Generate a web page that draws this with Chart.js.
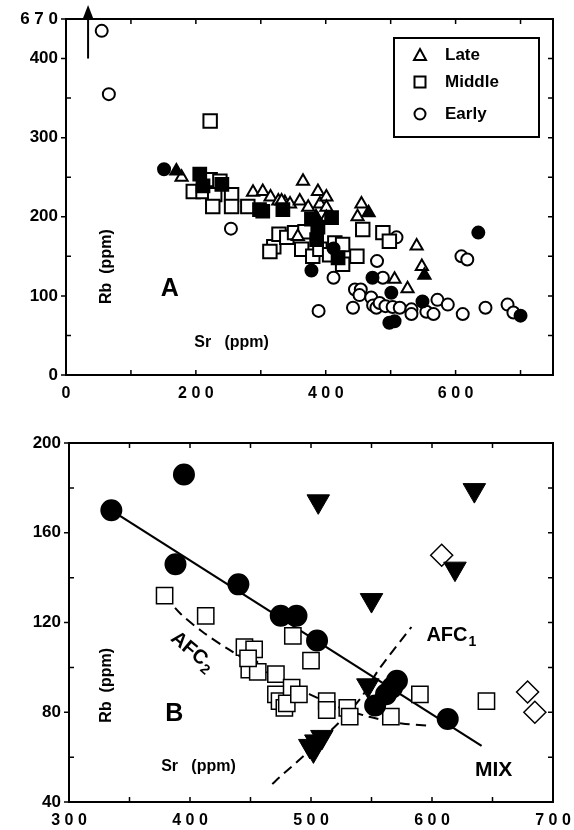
<!DOCTYPE html>
<html>
<head>
<meta charset="utf-8">
<script src="https://cdn.jsdelivr.net/npm/chart.js@4.4.0/dist/chart.umd.min.js"></script>
<style>
  body { margin: 0; background: #fff; }
  #wrap { position: relative; width: 574px; height: 830px; }
  canvas { position: absolute; left: 0; }
  #chartA { top: 0; }
  #chartB { top: 410px; }
</style>
</head>
<body>
<div id="wrap">
  <canvas id="chartA" width="574" height="410"></canvas>
  <canvas id="chartB" width="574" height="420"></canvas>
</div>
<script>
// Panel A: Rb vs Sr (ppm), all samples, [Sr, Rb]
const lateOpen = [[178,250],[288,231],[303,232],[315,225],[327,220],[337,218],[345,216],[332,220],[360,220],
  [365,245],[373,212],[388,232],[391,216],[401,225],[401,212],[401,199],[357,175],[449,200],[455,216],
  [540,163],[548,137],[506,121],[526,109]];
const lateFilled = [[170,258],[466,205],[552,126],[385,200]];
const middleOpen = [[222,321],[196,232],[211,232],[222,247],[237,245],[229,228],[255,228],[226,213],[255,213],
  [280,213],[320,162],[328,178],[314,156],[340,174],[352,180],[363,159],[368,181],[380,150],[391,159],
  [406,152],[414,167],[426,165],[426,140],[448,150],[457,184],[488,180],[498,169]];
const middleFilled = [[206,254],[211,239],[240,241],[298,209],[303,207],[334,209],[378,197],[388,187],
  [386,171],[409,199],[419,148]];
const earlyOpen = [[55,435],[66,355],[254,185],[509,174],[479,144],[412,123],[389,81],[609,150],[618,146],
  [488,123],[445,108],[454,108],[452,101],[442,85],[470,98],[473,88],[478,85],[483,91],[492,87],[503,86],
  [514,85],[532,83],[532,77],[555,80],[566,77],[572,95],[588,89],[611,77],[646,85],[680,89],[689,79]];
const earlyFilled = [[151,260],[635,180],[378,132],[472,123],[501,104],[498,66],[506,68],[549,93],[700,75],[412,160]];

const xTicksA = [0,100,200,300,400,500,600,700];
const xLabelsA = [0,200,400,600];
const yTicksA = [0,50,100,150,200,250,300,350,400,450];
const yLabelsA = [0,100,200,300,400];
const yBreakValue = 450, yBreakLabel = '670';
const legendNames = ['Late','Middle','Early'];

// Panel B: selected samples and model curves, [Sr, Rb]
const bCircles = [[335,170],[395,186],[388,146],[440,137],[475,123],[488,123],[505,112],[571,94],[567,91],
  [562,88],[553,83],[613,77]];
const bTriangles = [[506,174],[635,179],[619,144],[550,130],[547,92],[504,67],[499,65],[509,69],[502,63]];
const bDiamonds = [[608,150],[679,89],[685,80]];
const bSquares = [[379,132],[413,123],[445,109],[453,108],[449,99],[456,98],[448,104],[471,97],[471,88],
  [474,85],[478,82],[485,114],[500,103],[484,91],[480,84],[490,88],[513,85],[513,81],[530,82],[532,78],
  [566,78],[590,88],[645,85]];
const mixLine = [[335,170],[641,65]];
const afc2Line = [[379,132],[392,124],[410,116],[432,108],[463,98],[499,88],[524,82],[548,78],[575,75],[598,74]];
const afc1Line = [[468,48],[474,51],[501,64],[526,77],[542,87],[556,99],[583,118]];

const xTicksB = [300,350,400,450,500,550,600,650,700];
const xLabelsB = [300,400,500,600,700];
const yTicksB = [40,60,80,100,120,140,160,180,200];
const yLabelsB = [40,80,120,160,200];

const FONT = '"Liberation Sans", Arial, sans-serif';
const pts = arr => arr.map(p => ({ x: p[0], y: p[1] }));
const spaced = v => String(v).split('').join(' ');

// box + inward ticks on all four sides
const frame = {
  id: 'frame',
  afterDatasetsDraw(chart) {
    const { ctx, chartArea: a, scales } = chart;
    ctx.save();
    ctx.strokeStyle = '#000';
    ctx.lineWidth = 2;
    ctx.strokeRect(a.left, a.top, a.right - a.left, a.bottom - a.top);
    ctx.lineWidth = 1.5;
    ctx.beginPath();
    scales.x.ticks.forEach(t => {
      const px = scales.x.getPixelForValue(t.value);
      ctx.moveTo(px, a.bottom); ctx.lineTo(px, a.bottom - 5);
      ctx.moveTo(px, a.top); ctx.lineTo(px, a.top + 5);
    });
    scales.y.ticks.forEach(t => {
      const py = scales.y.getPixelForValue(t.value);
      ctx.moveTo(a.right, py); ctx.lineTo(a.right - 5, py);
      if (t.label) { ctx.moveTo(a.left, py); ctx.lineTo(a.left - 5, py); }
      else { ctx.moveTo(a.left, py); ctx.lineTo(a.left + 5, py); }
    });
    ctx.stroke();
    ctx.restore();
  }
};

// text labels placed in data units
const notes = {
  id: 'notes',
  afterDatasetsDraw(chart, args, opts) {
    const { ctx, scales } = chart;
    (opts.items || []).forEach(n => {
      const px = scales.x.getPixelForValue(n.x), py = scales.y.getPixelForValue(n.y);
      ctx.save();
      ctx.translate(px, py);
      ctx.rotate((n.rot || 0) * Math.PI / 180);
      ctx.fillStyle = '#000';
      ctx.textBaseline = 'middle';
      ctx.font = 'bold ' + n.size + 'px ' + FONT;
      const w1 = ctx.measureText(n.text).width;
      let w2 = 0;
      const subFont = 'bold ' + Math.round(n.size * 0.7) + 'px ' + FONT;
      if (n.sub) { ctx.font = subFont; w2 = ctx.measureText(n.sub).width + 1; }
      const x0 = -(w1 + w2) / 2;
      ctx.textAlign = 'left';
      ctx.font = 'bold ' + n.size + 'px ' + FONT;
      ctx.fillText(n.text, x0, 0);
      if (n.sub) { ctx.font = subFont; ctx.fillText(n.sub, x0 + w1 + 1, n.size * 0.3); }
      ctx.restore();
    });
  }
};

// legend box in the upper right corner of panel A
const boxLegend = {
  id: 'boxLegend',
  afterDatasetsDraw(chart) {
    const { ctx, chartArea: a } = chart;
    const left = a.right - 159, top = a.top + 19;
    ctx.save();
    ctx.fillStyle = '#fff';
    ctx.fillRect(left, top, 145, 99);
    ctx.strokeStyle = '#000';
    ctx.lineWidth = 2;
    ctx.strokeRect(left, top, 145, 99);
    const rows = [17, 44, 76];
    rows.forEach((dy, i) => {
      const cx = left + 26, cy = top + dy;
      ctx.beginPath();
      if (i === 0) { ctx.moveTo(cx, cy - 6); ctx.lineTo(cx + 6, cy + 5); ctx.lineTo(cx - 6, cy + 5); ctx.closePath(); }
      else if (i === 1) { ctx.rect(cx - 5.5, cy - 5.5, 11, 11); }
      else { ctx.arc(cx, cy, 5.5, 0, Math.PI * 2); }
      ctx.stroke();
      ctx.fillStyle = '#000';
      ctx.font = 'bold 17px ' + FONT;
      ctx.textBaseline = 'middle';
      ctx.fillText(legendNames[i], left + 51, cy);
    });
    ctx.restore();
  }
};

// arrow for the off-scale sample (Rb 670)
const offScale = {
  id: 'offScale',
  afterDatasetsDraw(chart, args, opts) {
    const { ctx, scales, chartArea: a } = chart;
    const px = scales.x.getPixelForValue(opts.sr), py = scales.y.getPixelForValue(opts.from);
    const tip = a.top - 14;
    ctx.save();
    ctx.strokeStyle = '#000'; ctx.fillStyle = '#000'; ctx.lineWidth = 2;
    ctx.beginPath(); ctx.moveTo(px, py); ctx.lineTo(px, tip + 8); ctx.stroke();
    ctx.beginPath(); ctx.moveTo(px, tip); ctx.lineTo(px + 5, tip + 13); ctx.lineTo(px - 5, tip + 13); ctx.closePath(); ctx.fill();
    ctx.restore();
  }
};

function marker(data, style, r, filled, extra) {
  return Object.assign({
    data: pts(data), pointStyle: style, pointRadius: r,
    pointBackgroundColor: filled ? '#000' : '#fff', pointBorderColor: '#000', pointBorderWidth: 2,
    showLine: false
  }, extra || {});
}

function axis(min, max, tickVals, labelVals, fit, isX, fmt, extra) {
  return Object.assign({
    type: 'linear', min: min, max: max,
    afterBuildTicks: s => { s.ticks = tickVals.map(v => ({ value: v })); },
    afterFit: s => {
      if (isX) { s.height = fit; s.paddingLeft = 0; s.paddingRight = 0; }
      else s.width = fit;
    },
    grid: { display: false, drawTicks: false },
    border: { display: false },
    ticks: {
      autoSkip: false, maxRotation: 0, color: '#000', padding: isX ? 9 : 8,
      font: { family: FONT, size: isX ? 16 : 17, weight: 'bold' },
      callback: fmt
    }
  }, extra || {});
}

const common = {
  responsive: false, animation: false, events: [],
  plugins: { legend: { display: false }, tooltip: { enabled: false } }
};

new Chart(document.getElementById('chartA'), {
  type: 'scatter',
  data: {
    datasets: [
      marker(earlyFilled, 'circle', 6, true, { label: 'Early (filled)' }),
      marker(middleFilled, 'rect', 9, true, { label: 'Middle (filled)' }),
      marker(lateFilled, 'triangle', 7, true, { label: 'Late (filled)' }),
      marker(lateOpen, 'triangle', 7, false, { label: 'Late' }),
      marker(middleOpen, 'rect', 9.5, false, { label: 'Middle' }),
      marker(earlyOpen, 'circle', 6, false, { label: 'Early' })
    ]
  },
  options: Object.assign({}, common, {
    layout: { padding: { left: 0, right: 21, top: 19, bottom: 0 } },
    scales: {
      x: axis(0, 750, xTicksA, xLabelsA, 35, true, v => xLabelsA.includes(v) ? spaced(v) : ''),
      y: axis(0, 450, yTicksA, yLabelsA, 66, false,
        v => v === yBreakValue ? spaced(yBreakLabel) : (yLabelsA.includes(v) ? String(v) : ''))
    },
    plugins: Object.assign({}, common.plugins, {
      notes: { items: [
        { text: 'Rb  (ppm)', x: 63, y: 137, size: 16, rot: -90 },
        { text: 'Sr   (ppm)', x: 255, y: 41, size: 16 },
        { text: 'A', x: 160, y: 108, size: 25 }
      ] },
      offScale: { sr: 34, from: 400 }
    })
  }),
  plugins: [frame, notes, boxLegend, offScale]
});

new Chart(document.getElementById('chartB'), {
  type: 'scatter',
  data: {
    datasets: [
      marker(bTriangles, 'triangle', 13, true, { label: 'Late', rotation: 180, pointBorderWidth: 1 }),
      marker(bCircles, 'circle', 10, true, { label: 'Early' }),
      marker(bDiamonds, 'rectRot', 11, false, { label: 'Other', pointBorderWidth: 1.5 }),
      marker(bSquares, 'rect', 11.5, false, { label: 'Middle', pointBorderWidth: 1.5 }),
      { label: 'MIX', data: pts(mixLine), showLine: true, pointRadius: 0, borderColor: '#000', borderWidth: 2.2 },
      { label: 'AFC2', data: pts(afc2Line), showLine: true, pointRadius: 0, borderColor: '#000', borderWidth: 2, borderDash: [10, 6], tension: 0.3 },
      { label: 'AFC1', data: pts(afc1Line), showLine: true, pointRadius: 0, borderColor: '#000', borderWidth: 2, borderDash: [10, 6], tension: 0.3 }
    ]
  },
  options: Object.assign({}, common, {
    layout: { padding: { left: 0, right: 21, top: 33, bottom: 0 } },
    scales: {
      x: axis(300, 700, xTicksB, xLabelsB, 28, true, v => xLabelsB.includes(v) ? spaced(v) : ''),
      y: axis(40, 200, yTicksB, yLabelsB, 69, false, v => yLabelsB.includes(v) ? String(v) : '')
    },
    plugins: Object.assign({}, common.plugins, {
      notes: { items: [
        { text: 'Rb  (ppm)', x: 331, y: 92, size: 16, rot: -90 },
        { text: 'Sr   (ppm)', x: 407, y: 56, size: 16 },
        { text: 'B', x: 387, y: 79, size: 25 },
        { text: 'AFC', sub: '2', x: 402, y: 107, size: 20, rot: 40 },
        { text: 'AFC', sub: '1', x: 616, y: 114, size: 20 },
        { text: 'MIX', x: 651, y: 54, size: 21 }
      ] }
    })
  }),
  plugins: [frame, notes]
});
</script>
</body>
</html>
